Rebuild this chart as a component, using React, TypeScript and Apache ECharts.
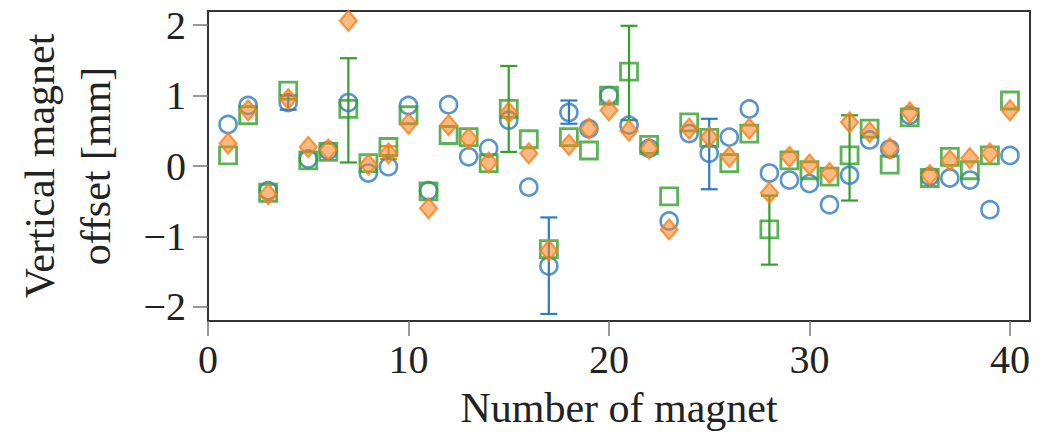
import React, { useEffect, useRef } from "react";
import * as echarts from "echarts";

// Magnet numbers 1..40
const magnets: number[] = [
  1, 2, 3, 4, 5, 6, 7, 8, 9, 10, 11, 12, 13, 14, 15, 16, 17, 18, 19, 20,
  21, 22, 23, 24, 25, 26, 27, 28, 29, 30, 31, 32, 33, 34, 35, 36, 37, 38, 39, 40,
];

// Vertical offsets [mm], one value per magnet
const blueOffsets: number[] = [
  0.59, 0.86, -0.35, 0.9, 0.1, 0.22, 0.9, -0.1, -0.01, 0.86,
  -0.35, 0.87, 0.13, 0.25, 0.65, -0.3, -1.42, 0.76, 0.53, 1.0,
  0.58, 0.25, -0.78, 0.46, 0.18, 0.41, 0.81, -0.1, -0.2, -0.25,
  -0.55, -0.13, 0.37, 0.24, 0.72, -0.15, -0.17, -0.2, -0.62, 0.15,
];
const orangeOffsets: number[] = [
  0.32, 0.79, -0.4, 0.95, 0.27, 0.23, 2.06, 0.02, 0.18, 0.6,
  -0.6, 0.58, 0.39, 0.05, 0.76, 0.18, -1.2, 0.3, 0.53, 0.79,
  0.5, 0.25, -0.9, 0.53, 0.41, 0.13, 0.53, -0.38, 0.13, 0.02,
  -0.1, 0.62, 0.48, 0.25, 0.76, -0.13, 0.08, 0.11, 0.18, 0.79,
];
const greenOffsets: number[] = [
  0.15, 0.72, -0.38, 1.07, 0.08, 0.2, 0.81, 0.04, 0.27, 0.72,
  -0.36, 0.44, 0.41, 0.04, 0.81, 0.38, -1.18, 0.41, 0.22, 1.0,
  1.34, 0.3, -0.43, 0.62, 0.4, 0.04, 0.46, -0.9, 0.08, -0.06,
  -0.15, 0.15, 0.53, 0.02, 0.69, -0.17, 0.13, -0.06, 0.15, 0.93,
];

// Error bars: [magnet, low, high]
const blueErrors: number[][] = [
  [4, 0.8, 1.0],
  [17, -2.1, -0.73],
  [18, 0.6, 0.93],
  [25, -0.33, 0.67],
];
const orangeErrors: number[][] = [[9, 0.1, 0.28]];
const greenErrors: number[][] = [
  [7, 0.05, 1.53],
  [15, 0.2, 1.42],
  [21, 0.65, 1.99],
  [28, -1.4, -0.42],
  [32, -0.49, 0.72],
];

const xTicks: number[] = [0, 10, 20, 30, 40];
const yTicks: number[] = [-2, -1, 0, 1, 2];

const BLUE = "#2f7bbf";
const ORANGE = "#f5821f";
const GREEN = "#33a02c";
const FONT = "'Liberation Serif', 'DejaVu Serif', serif";

function errorSeries(data: number[][], color: string) {
  return {
    type: "custom",
    z: 2,
    data,
    renderItem: (_params: any, api: any) => {
      const x = api.value(0);
      const lo = api.coord([x, api.value(1)]);
      const hi = api.coord([x, api.value(2)]);
      const half = 8.5;
      const style = { stroke: color, lineWidth: 2.2, fill: "none" };
      return {
        type: "group",
        children: [
          { type: "line", shape: { x1: lo[0], y1: lo[1], x2: hi[0], y2: hi[1] }, style },
          { type: "line", shape: { x1: lo[0] - half, y1: lo[1], x2: lo[0] + half, y2: lo[1] }, style },
          { type: "line", shape: { x1: hi[0] - half, y1: hi[1], x2: hi[0] + half, y2: hi[1] }, style },
        ],
      };
    },
  };
}

export default function App() {
  const ref = useRef<HTMLDivElement>(null);

  useEffect(() => {
    if (!ref.current) return;
    const chart = echarts.init(ref.current, null, { renderer: "svg" });
    const pairs = (ys: number[]) => magnets.map((m, i) => [m, ys[i]]);

    chart.setOption({
      animation: false,
      backgroundColor: "#ffffff",
      grid: {
        left: 208,
        right: 18,
        top: 11,
        bottom: 112,
        show: true,
        borderColor: "#333333",
        borderWidth: 2,
        backgroundColor: "transparent",
      },
      xAxis: {
        type: "value",
        min: 0,
        max: 41,
        name: "Number of magnet",
        nameLocation: "middle",
        nameGap: 66,
        nameTextStyle: { fontFamily: FONT, fontSize: 42, color: "#222" },
        splitLine: { show: false },
        axisLine: { show: true, onZero: false, lineStyle: { color: "#333", width: 2 } },
        axisTick: {
          show: true,
          length: 15,
          customValues: xTicks,
          lineStyle: { color: "#777", width: 1.5 },
        },
        axisLabel: {
          customValues: xTicks,
          margin: 18,
          fontFamily: FONT,
          fontSize: 40,
          color: "#222",
        },
      },
      yAxis: {
        type: "value",
        min: -2.2,
        max: 2.2,
        name: "Vertical magnet\noffset [mm]",
        nameLocation: "middle",
        nameRotate: 90,
        nameGap: 84,
        nameTextStyle: { fontFamily: FONT, fontSize: 42, color: "#222", lineHeight: 56 },
        splitLine: { show: false },
        axisLine: { show: true, onZero: false, lineStyle: { color: "#333", width: 2 } },
        axisTick: {
          show: true,
          length: 15,
          customValues: yTicks,
          lineStyle: { color: "#777", width: 1.5 },
        },
        axisLabel: {
          customValues: yTicks,
          margin: 22,
          fontFamily: FONT,
          fontSize: 40,
          color: "#222",
          formatter: (v: number) => (v < 0 ? "\u2212" + Math.abs(v) : String(v)),
        },
      },
      series: [
        errorSeries(blueErrors, BLUE),
        errorSeries(greenErrors, GREEN),
        errorSeries(orangeErrors, ORANGE),
        {
          type: "scatter",
          z: 3,
          data: pairs(blueOffsets),
          symbol: "circle",
          symbolSize: 17,
          itemStyle: { color: "rgba(255,255,255,0)", borderColor: BLUE, borderWidth: 2.6 },
        },
        {
          type: "scatter",
          z: 4,
          data: pairs(greenOffsets),
          symbol: "rect",
          symbolSize: 17,
          itemStyle: { color: "rgba(255,255,255,0)", borderColor: GREEN, borderWidth: 2.8 },
        },
        {
          type: "scatter",
          z: 5,
          data: pairs(orangeOffsets),
          symbol: "diamond",
          symbolSize: [17, 20],
          itemStyle: { color: "rgba(245,130,31,0.7)", borderColor: ORANGE, borderWidth: 2.2 },
        },
      ],
    });

    return () => chart.dispose();
  }, []);

  return (
    <div
      ref={ref}
      style={{ position: "fixed", left: 0, top: 0, width: 1048, height: 434 }}
    />
  );
}
